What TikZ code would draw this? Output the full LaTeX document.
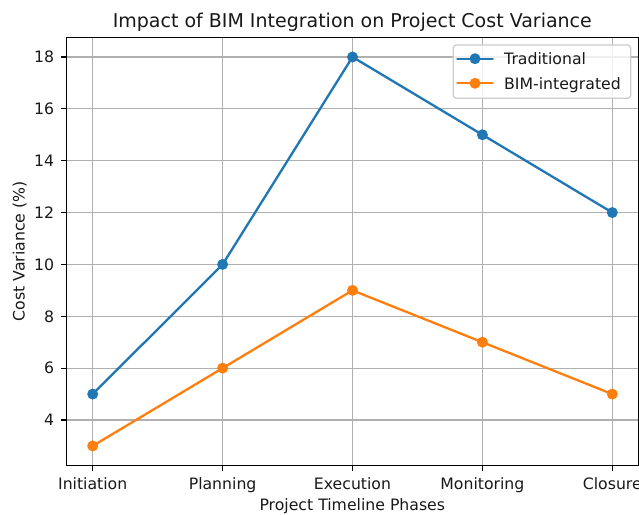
\documentclass[tikz,border=0pt]{standalone}
\usepackage{fontspec}
\setmainfont{DejaVu Sans}
\definecolor{mplblue}{HTML}{1F77B4}
\definecolor{mplorange}{HTML}{FF7F0E}
\definecolor{gridgray}{HTML}{B0B0B0}
\definecolor{legendedge}{HTML}{CCCCCC}
\tikzset{
  gridline/.style={draw=gridgray, line width=1.2pt},
  spine/.style={draw=black, line width=1.2pt, line cap=rect},
  tickmark/.style={draw=black, line width=1.2pt},
  ticklabel/.style={font=\fontsize{15.7}{18}\selectfont, inner sep=0pt, text=black!90},
  series/.style={line width=2.3pt, line join=round, line cap=round},
  marker/.style={circle, fill=#1, draw=none, minimum size=11pt, inner sep=0pt},
}
\begin{document}
\begin{tikzpicture}[x=1pt, y=-1pt]
  \useasboundingbox (0,0) rectangle (639,514);
  \fill[white] (0,0) rectangle (639,514);

  % data scope: x = phase index, y = cost variance (%)
  \begin{scope}[shift={(92.7,523.72)}, x=129.9pt, y=25.93pt]
    % grid
    \foreach \i in {0,...,4}
      \draw[gridline] (\i,2.25) -- (\i,18.75);
    \foreach \v in {4,6,...,18}
      \draw[gridline] (-0.2,\v) -- (4.2,\v);

    % Traditional
    \foreach \v [count=\i from 0] in {5,10,18,15,12}
      \coordinate (t\i) at (\i,\v);
    \draw[series, mplblue] (t0) -- (t1) -- (t2) -- (t3) -- (t4);
    \foreach \i in {0,...,4}
      \node[marker=mplblue] (mt\i) at (t\i) {};

    % BIM-integrated
    \foreach \v [count=\i from 0] in {3,6,9,7,5}
      \coordinate (b\i) at (\i,\v);
    \draw[series, mplorange] (b0) -- (b1) -- (b2) -- (b3) -- (b4);
    \foreach \i in {0,...,4}
      \node[marker=mplorange] (mb\i) at (b\i) {};

    % frame
    \draw[spine] (-0.2,2.25) rectangle (4.2,18.75);

    % y ticks and labels
    \foreach \v in {4,6,...,18} {
      \draw[tickmark] (-0.2,\v) -- ++(-5.5pt,0);
      \node[ticklabel, anchor=east] (yl\v) at ([xshift=-12.3pt]-0.2,\v) {\v};
    }
    % x ticks and labels
    \foreach \lab [count=\i from 0] in {Initiation,Planning,Execution,Monitoring,Closure} {
      \draw[tickmark] (\i,2.25) -- ++(0,-5.6pt);
      \node[ticklabel, anchor=base] (xl\i) at ([yshift=-23.9pt]\i,2.25) {\lab};
    }
  \end{scope}

  % titles
  \node[font=\fontsize{19}{22}\selectfont, anchor=base, inner sep=0pt, text=black!90] (title) at (352.3,27.6)
    {Impact of BIM Integration on Project Cost Variance};
  \node[ticklabel, anchor=base] (xlabel) at (352.3,510.5) {Project Timeline Phases};
  \node[ticklabel, anchor=base, rotate=90] (ylabel) at (24.5,251.3) {Cost Variance (\%)};

  % legend
  \draw[draw=legendedge, line width=1.2pt, fill=white, fill opacity=0.8, rounded corners=3pt]
    (453.3,45) rectangle (630.7,98.3);
  \coordinate (la0) at (457.3,58.7);
  \coordinate (la1) at (492.7,58.7);
  \draw[series, mplblue] (la0) -- (la1);
  \node[marker=mplblue] (lm0) at (475,58.7) {};
  \node[ticklabel, anchor=base west] (lt0) at (504,64.2) {Traditional};
  \coordinate (lb0) at (457.3,83.3);
  \coordinate (lb1) at (492.7,83.3);
  \draw[series, mplorange] (lb0) -- (lb1);
  \node[marker=mplorange] (lm1) at (475,83.3) {};
  \node[ticklabel, anchor=base west] (lt1) at (504,89) {BIM-integrated};
\end{tikzpicture}
\end{document}
